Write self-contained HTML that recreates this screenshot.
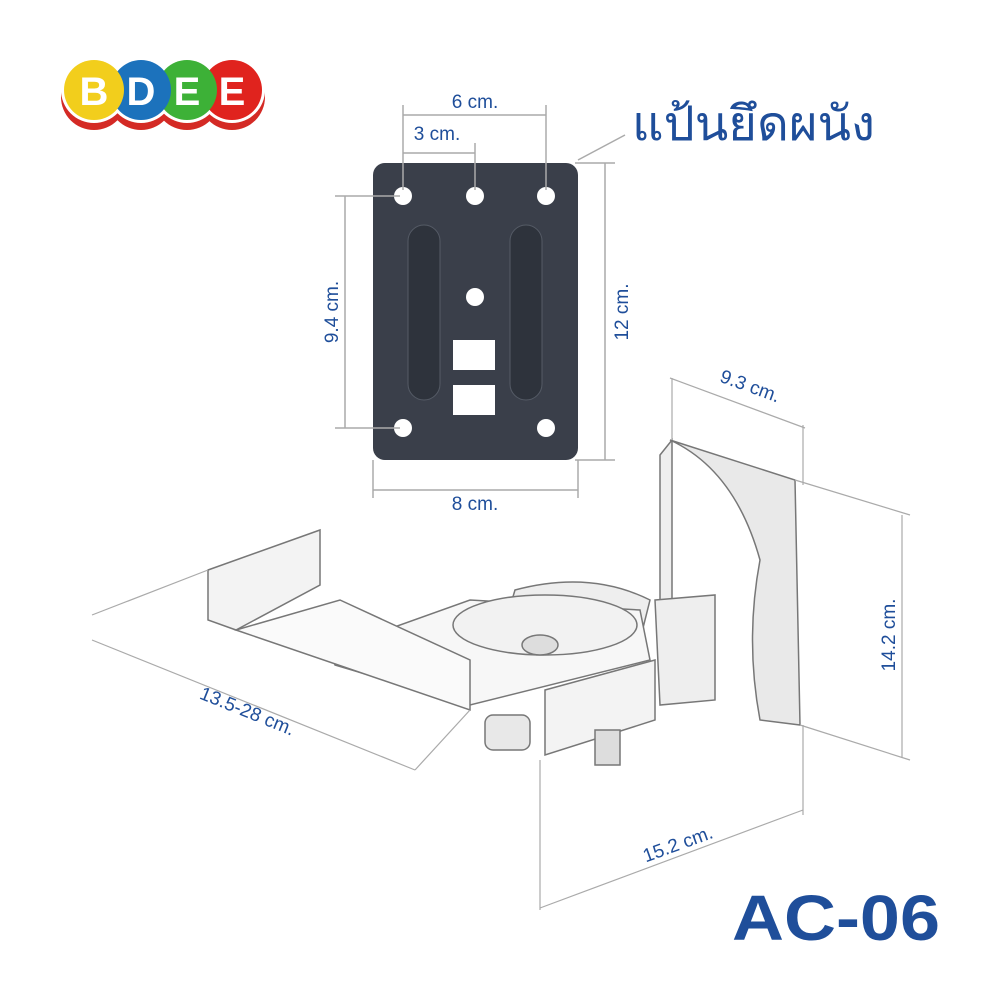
<!DOCTYPE html>
<html><head><meta charset="utf-8"><style>html,body{margin:0;padding:0;background:#fff}svg{display:block}</style></head>
<body>
<svg width="1000" height="1000" viewBox="0 0 1000 1000" xmlns="http://www.w3.org/2000/svg" font-family="Liberation Sans, sans-serif">
<rect width="1000" height="1000" fill="#fff"/>
<g>
<circle cx="94" cy="97" r="33" fill="#d42a25"/><circle cx="141" cy="97" r="33" fill="#d42a25"/><circle cx="187" cy="97" r="33" fill="#d42a25"/><circle cx="232" cy="97" r="33" fill="#d42a25"/>
<circle cx="232" cy="90" r="33" fill="#fff"/><circle cx="187" cy="90" r="33" fill="#fff"/><circle cx="141" cy="90" r="33" fill="#fff"/><circle cx="94" cy="90" r="33" fill="#fff"/>
<circle cx="232" cy="90" r="30" fill="#e0231e"/>
<circle cx="187" cy="90" r="30" fill="#3db137"/>
<circle cx="141" cy="90" r="30" fill="#1c72bc"/>
<circle cx="94" cy="90" r="30" fill="#f2ce1c"/>
<g fill="#fff" font-weight="bold" font-size="40" text-anchor="middle"><text x="94" y="105">B</text><text x="141" y="105">D</text><text x="187" y="105">E</text><text x="232" y="105">E</text></g>
</g>
<rect x="373" y="163" width="205" height="297" rx="12" fill="#3a3f4a"/>
<g fill="#fff"><circle cx="403" cy="196" r="9"/><circle cx="475" cy="196" r="9"/><circle cx="546" cy="196" r="9"/><circle cx="475" cy="297" r="9"/><circle cx="403" cy="428" r="9"/><circle cx="546" cy="428" r="9"/>
<rect x="453" y="340" width="42" height="30"/><rect x="453" y="385" width="42" height="30"/></g>
<rect x="408" y="225" width="32" height="175" rx="16" fill="#2e333c" stroke="#555b66"/>
<rect x="510" y="225" width="32" height="175" rx="16" fill="#2e333c" stroke="#555b66"/>
<g stroke="#aaa" stroke-width="1.5" fill="none">
<line x1="403" y1="115" x2="546" y2="115"/><line x1="403" y1="105" x2="403" y2="190"/><line x1="546" y1="105" x2="546" y2="190"/>
<line x1="403" y1="153" x2="475" y2="153"/><line x1="475" y1="143" x2="475" y2="190"/>
<line x1="345" y1="196" x2="345" y2="428"/><line x1="335" y1="196" x2="400" y2="196"/><line x1="335" y1="428" x2="400" y2="428"/>
<line x1="605" y1="163" x2="605" y2="460"/><line x1="575" y1="163" x2="615" y2="163"/><line x1="575" y1="460" x2="615" y2="460"/>
<line x1="373" y1="490" x2="578" y2="490"/><line x1="373" y1="460" x2="373" y2="498"/><line x1="578" y1="460" x2="578" y2="498"/>
<line x1="578" y1="160" x2="625" y2="135"/>
</g>
<g fill="#1f4e9a" font-size="19" text-anchor="middle">
<text x="475" y="108">6 cm.</text><text x="437" y="140">3 cm.</text><text x="475" y="510">8 cm.</text>
<text transform="translate(338,312) rotate(-90)">9.4 cm.</text>
<text transform="translate(628,312) rotate(-90)">12 cm.</text>
<text transform="translate(748,392) rotate(20)">9.3 cm.</text>
<text transform="translate(895,635) rotate(-90)">14.2 cm.</text>
<text transform="translate(245,717) rotate(22)">13.5-28 cm.</text>
<text transform="translate(680,850) rotate(-20)">15.2 cm.</text>
</g>
<text x="632" y="140" font-size="48" fill="#1f4e9a" textLength="243" lengthAdjust="spacingAndGlyphs" font-family="Liberation Sans, Noto Sans CJK SC, sans-serif">แป้นยึดผนัง</text>
<text x="732" y="940" font-size="64" fill="#1f4e9a" font-weight="bold" textLength="208" lengthAdjust="spacingAndGlyphs">AC-06</text>
<g stroke="#777" stroke-width="1.5" fill="#fff">
<path d="M670 440 L795 480 L800 725 L760 720 Q745 640 760 560 Q735 470 670 440 Z" fill="#e9e9e9"/>
<path d="M660 455 L672 440 L672 600 L660 612 Z" fill="#eee"/>
<path d="M655 600 L715 595 L715 700 L660 705 Z" fill="#eee"/>
<path d="M515 590 Q590 570 650 600 L640 640 L500 640 Z" fill="#eee"/>
<path d="M330 650 L470 600 L640 610 L650 660 L470 705 L335 665 Z" fill="#f7f7f7"/>
<ellipse cx="545" cy="625" rx="92" ry="30" fill="#f2f2f2"/>
<ellipse cx="540" cy="645" rx="18" ry="10" fill="#ddd"/>
<path d="M208 570 L320 530 L320 585 L236 630 L208 620 Z" fill="#f3f3f3"/>
<path d="M236 630 L340 600 L470 660 L470 710 Z" fill="#fafafa"/>
<path d="M545 690 L655 660 L655 720 L545 755 Z" fill="#f3f3f3"/>
<rect x="485" y="715" width="45" height="35" rx="8" fill="#e8e8e8"/>
<rect x="595" y="730" width="25" height="35" fill="#ddd"/>
</g>
<g stroke="#aaa" stroke-width="1.2" fill="none">
<line x1="92" y1="640" x2="415" y2="770"/><line x1="92" y1="615" x2="208" y2="570"/><line x1="415" y1="770" x2="470" y2="710"/>
<line x1="670" y1="378" x2="805" y2="428"/><line x1="672" y1="378" x2="672" y2="440"/><line x1="803" y1="425" x2="803" y2="485"/>
<line x1="902" y1="515" x2="902" y2="758"/><line x1="795" y1="480" x2="910" y2="515"/><line x1="800" y1="725" x2="910" y2="760"/>
<line x1="540" y1="908" x2="803" y2="810"/><line x1="540" y1="760" x2="540" y2="910"/><line x1="803" y1="725" x2="803" y2="815"/>
</g>
</svg>
</body></html>
